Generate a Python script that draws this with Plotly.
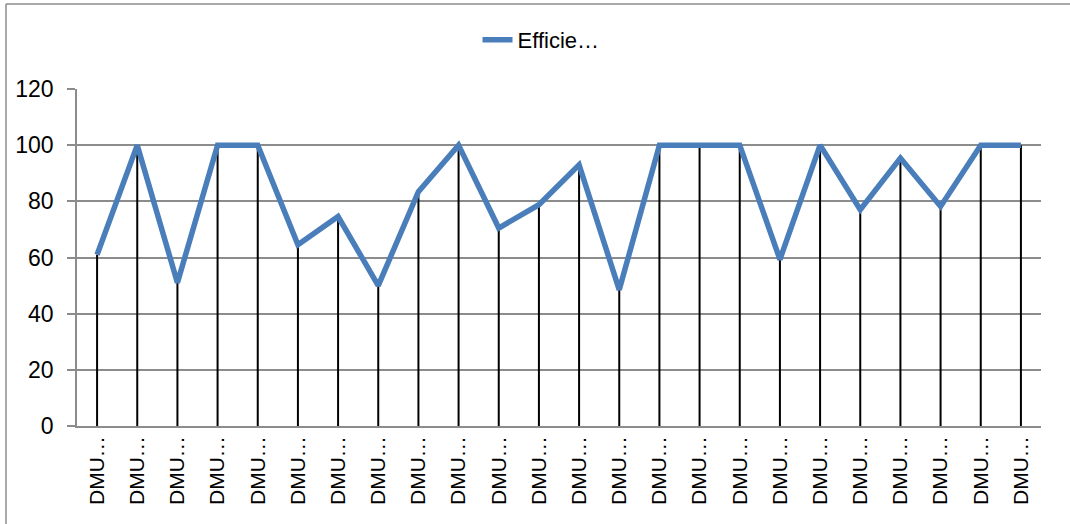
import plotly.graph_objects as go

categories = [f"DMU {i}" for i in range(1, 25)]
tick_labels = ["DMU…"] * 24
efficiency = [61, 100, 51, 100, 100, 64.5, 74.6, 50, 83.4, 100, 70.5, 78.8,
              93, 48.5, 100, 100, 100, 59.3, 100, 77, 95.4, 78.2, 100, 100]
series_name = "Efficie…"
y_ticks = [0, 20, 40, 60, 80, 100, 120]

# drop lines from each point down to zero
drop_x, drop_y = [], []
for c, v in zip(categories, efficiency):
    drop_x += [c, c, None]
    drop_y += [0, v, None]

fig = go.Figure()
fig.add_trace(go.Scatter(x=drop_x, y=drop_y, mode="lines",
                         line=dict(color="black", width=2),
                         showlegend=False, hoverinfo="skip"))
fig.add_trace(go.Scatter(x=categories, y=efficiency, mode="lines",
                         name=series_name,
                         line=dict(color="#4A7EBB", width=5.5)))

L, R, T, B = 77, 29, 89, 98
W, H = 1070, 524
pw, ph = W - L - R, H - T - B

def px_x(x):
    return (x - L) / pw

def px_y(y):
    return (H - B - y) / ph

gray = "#8c8c8c"
fig.update_layout(
    width=W, height=H,
    margin=dict(l=L, r=R, t=T, b=B, pad=0),
    paper_bgcolor="white", plot_bgcolor="white",
    font=dict(family="Liberation Sans, Arial, sans-serif", color="black", size=22),
    showlegend=True,
    legend=dict(x=px_x(541), y=px_y(40), xanchor="center", yanchor="middle",
                orientation="h", font=dict(size=22), bgcolor="rgba(0,0,0,0)"),
    shapes=[
        dict(type="line", xref="paper", yref="paper",
             x0=px_x(6), x1=px_x(W + 5), y0=px_y(4), y1=px_y(4),
             line=dict(color=gray, width=1.5)),
        dict(type="line", xref="paper", yref="paper",
             x0=px_x(6), x1=px_x(6), y0=px_y(4), y1=px_y(H + 5),
             line=dict(color=gray, width=1.5)),
    ],
)
fig.update_xaxes(
    type="category", categoryorder="array", categoryarray=categories,
    tickvals=categories, ticktext=tick_labels, tickangle=-90,
    range=[-0.5, len(categories) - 0.5],
    showgrid=False, showline=True, linecolor=gray, linewidth=1.5,
    ticks="", tickfont=dict(size=21), zeroline=False,
)
fig.update_yaxes(
    range=[0, 120], tickvals=y_ticks,
    showgrid=True, gridcolor=gray, gridwidth=1.5,
    showline=True, linecolor=gray, linewidth=1.5,
    ticks="outside", ticklen=8, tickcolor=gray, tickwidth=1.5,
    ticklabelstandoff=9, tickfont=dict(size=23), zeroline=False,
)

fig.write_html("out.html")
